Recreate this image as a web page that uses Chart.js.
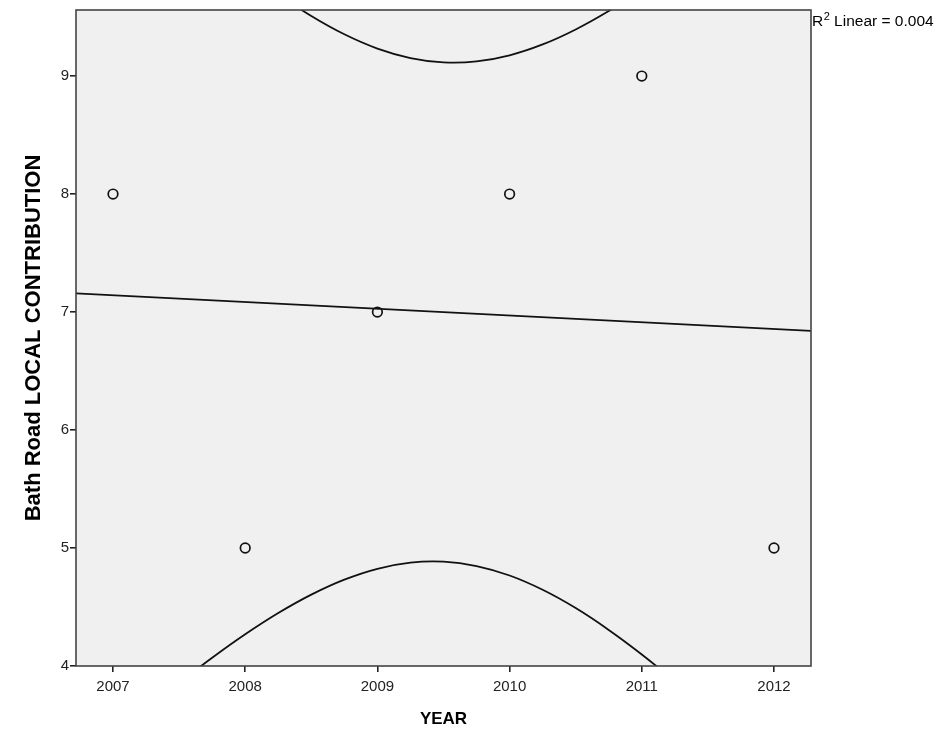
<!DOCTYPE html>
<html>
<head>
<meta charset="utf-8">
<script src="https://cdn.jsdelivr.net/npm/chart.js@4.4.1/dist/chart.umd.min.js"></script>
<style>
  html, body { margin: 0; padding: 0; background: #ffffff; }
  #wrap { width: 939px; height: 733px; position: relative; }
</style>
</head>
<body>
<div id="wrap"><canvas id="c" width="939" height="733"></canvas></div>
<script>
// Observed data
const years = [2007, 2008, 2009, 2010, 2011, 2012];
const contribution = [8, 5, 7, 8, 9, 5];

// Linear fit line (read at plot edges)
const fitX = [2006.72, 2012.28];
const fitY = [7.159, 6.841];

// 95% confidence band curves
const bandX = [2006.75, 2007.0, 2007.25, 2007.5, 2007.75, 2008.0, 2008.25, 2008.5, 2008.75, 2009.0, 2009.25, 2009.5,
               2009.75, 2010.0, 2010.25, 2010.5, 2010.75, 2011.0, 2011.25, 2011.5, 2011.75, 2012.0, 2012.25];
const bandUpper = [11.168, 10.894, 10.628, 10.373, 10.130, 9.902, 9.694, 9.509, 9.354, 9.233, 9.153, 9.116,
                   9.124, 9.176, 9.268, 9.395, 9.551, 9.731, 9.930, 10.144, 10.371, 10.608, 10.854];
const bandLower = [3.146, 3.392, 3.629, 3.856, 4.070, 4.269, 4.449, 4.605, 4.732, 4.824, 4.876, 4.884,
                   4.847, 4.767, 4.646, 4.491, 4.306, 4.098, 3.870, 3.627, 3.372, 3.106, 2.832];

// Tick labels
const xTicks = [2007, 2008, 2009, 2010, 2011, 2012];
const yTicks = [4, 5, 6, 7, 8, 9];

const xTitle = 'YEAR';
const yTitle = 'Bath Road LOCAL CONTRIBUTION';
const r2Label = { base: 'R', sup: '2', rest: ' Linear = 0.004' };

const toPts = (xs, ys) => xs.map((x, i) => ({ x: x, y: ys[i] }));

const FONT = 'Arial, "Liberation Sans", sans-serif';

const plotBg = {
  id: 'plotBg',
  beforeDatasetsDraw(chart) {
    const { ctx, chartArea: a } = chart;
    ctx.save();
    ctx.fillStyle = '#f0f0f0';
    ctx.fillRect(a.left, a.top, a.right - a.left, a.bottom - a.top);
    ctx.restore();
  },
  afterDatasetsDraw(chart) {
    const { ctx, chartArea: a } = chart;
    ctx.save();
    ctx.strokeStyle = '#444444';
    ctx.lineWidth = 1.6;
    ctx.strokeRect(a.left, a.top, a.right - a.left, a.bottom - a.top);
    // R² label
    ctx.fillStyle = '#000000';
    ctx.textBaseline = 'alphabetic';
    ctx.textAlign = 'left';
    let x = a.right + 1;
    const y = a.top + 16;
    ctx.font = '15.5px ' + FONT;
    ctx.fillText(r2Label.base, x, y);
    x += ctx.measureText(r2Label.base).width + 0.5;
    ctx.font = '11px ' + FONT;
    ctx.fillText(r2Label.sup, x, y - 6);
    x += ctx.measureText(r2Label.sup).width;
    ctx.font = '15.5px ' + FONT;
    ctx.fillText(r2Label.rest, x, y);
    ctx.restore();
  }
};

new Chart(document.getElementById('c'), {
  type: 'scatter',
  data: {
    datasets: [
      {
        label: 'Observed',
        data: toPts(years, contribution),
        showLine: false,
        pointRadius: 4.8,
        pointBorderWidth: 1.7,
        pointBorderColor: '#111111',
        pointBackgroundColor: 'rgba(0,0,0,0)',
        order: 0
      },
      {
        label: 'Linear',
        type: 'line',
        data: toPts(fitX, fitY),
        borderColor: '#111111',
        borderWidth: 1.8,
        pointRadius: 0,
        fill: false,
        clip: 0,
        order: 1
      },
      {
        label: 'Upper',
        type: 'line',
        data: toPts(bandX, bandUpper),
        borderColor: '#111111',
        borderWidth: 1.8,
        pointRadius: 0,
        tension: 0.4,
        capBezierPoints: false,
        fill: false,
        clip: 0,
        order: 2
      },
      {
        label: 'Lower',
        type: 'line',
        data: toPts(bandX, bandLower),
        borderColor: '#111111',
        borderWidth: 1.8,
        pointRadius: 0,
        tension: 0.4,
        capBezierPoints: false,
        fill: false,
        clip: 0,
        order: 3
      }
    ]
  },
  options: {
    responsive: false,
    animation: false,
    devicePixelRatio: 1,
    layout: { padding: { top: 7, right: 128, left: 0, bottom: 0 } },
    plugins: { legend: { display: false }, tooltip: { enabled: false } },
    scales: {
      x: {
        type: 'linear',
        min: 2006.72,
        max: 2012.28,
        afterBuildTicks: (s) => { s.ticks = xTicks.map(v => ({ value: v })); },
        afterFit: (s) => { s.height = 67; },
        grid: { display: true, drawOnChartArea: false, drawTicks: true, tickLength: 6, color: '#222222', lineWidth: 1.6 },
        border: { display: false },
        ticks: { color: '#222222', font: { family: FONT, size: 15 }, padding: 6, maxRotation: 0, autoSkip: false,
                 callback: (v) => String(v) },
        title: { display: true, text: xTitle, color: '#000000', font: { family: FONT, size: 17, weight: 'bold' }, padding: { top: 10, bottom: 3 } }
      },
      y: {
        type: 'linear',
        min: 4,
        max: 9.56,
        afterBuildTicks: (s) => { s.ticks = yTicks.map(v => ({ value: v })); },
        afterFit: (s) => { s.width = 76; },
        grid: { display: true, drawOnChartArea: false, drawTicks: true, tickLength: 6, color: '#222222', lineWidth: 1.6 },
        border: { display: false },
        ticks: { color: '#222222', font: { family: FONT, size: 15 }, padding: 1, autoSkip: false,
                 callback: (v) => String(v) },
        title: { display: true, text: yTitle, color: '#000000', font: { family: FONT, size: 22, weight: 'bold' }, padding: { top: 21, bottom: 0 } }
      }
    }
  },
  plugins: [plotBg]
});
</script>
</body>
</html>
